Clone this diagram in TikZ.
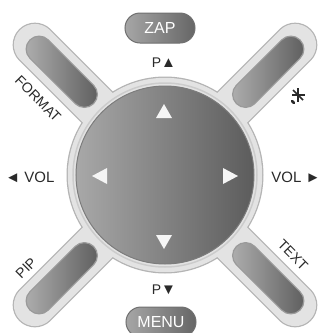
\documentclass[tikz,border=0pt]{standalone}
\usepackage{fontspec}
\setmainfont{Liberation Sans}
\usetikzlibrary{calc}
\definecolor{ringfill}{HTML}{E3E3E3}
\definecolor{ringedge}{HTML}{B4B4B4}
\definecolor{padL}{HTML}{A8A8A8}
\definecolor{padR}{HTML}{5C5C5C}
\definecolor{padedge}{HTML}{7C7C7C}
\definecolor{pillL}{HTML}{B2B2B2}
\definecolor{pillR}{HTML}{5A5A5A}
\definecolor{pilledge}{HTML}{9A9A9A}
\definecolor{btnL}{HTML}{A6A6A6}
\definecolor{btnR}{HTML}{666666}
\definecolor{btnedge}{HTML}{707070}
\definecolor{ink}{HTML}{2A2A2A}
\newcommand\tglyph[1]{{\fontsize{15}{15}\selectfont #1}}
\tikzset{
  lbl/.style={text=ink, inner sep=0pt, font=\fontsize{14}{14}\selectfont},
  btn/.style={rectangle, rounded corners=15pt, minimum width=70pt, minimum height=30pt,
    inner sep=0pt, left color=btnL, right color=btnR, draw=btnedge, line width=1pt,
    text=white, font=\fontsize{16}{16}\selectfont},
  tri/.style={fill=white!96!black}
}
\begin{document}
\begin{tikzpicture}[x=1pt,y=-1pt]
\clip (0,0) rectangle (321,333);
\fill[white] (0,0) rectangle (321,333);
\coordinate (C) at (165,175);
% outline of ring + outer pills
\foreach \a in {45,135,225,315}{
  \draw[ringedge, line width=44.5pt, line cap=round] ($(C)+(\a:80)$) -- ($(C)+(\a:184)$);
}
\fill[ringedge] (C) circle (98.5);
\foreach \a in {45,135,225,315}{
  \draw[ringfill, line width=42pt, line cap=round] ($(C)+(\a:80)$) -- ($(C)+(\a:184)$);
}
\fill[ringfill] (C) circle (97.2);
\draw[white!80!black, line width=1.5pt] (C) circle (92);
% central pad
\shade[left color=padL, right color=padR] (C) circle (89);
\draw[padedge, line width=1pt] (C) circle (89);
% dark pills
\foreach \a in {45,135,225,315}{
  \shadedraw[left color=pillL, right color=pillR, draw=pilledge, line width=1.2pt, rounded corners=13pt]
   ($(C)+(\a:114)+(\a+90:13)+(\a+180:13)$) -- ($(C)+(\a:178)+(\a+90:13)+(\a:13)$) --
   ($(C)+(\a:178)+(\a-90:13)+(\a:13)$) -- ($(C)+(\a:114)+(\a-90:13)+(\a+180:13)$) -- cycle;
}
% arrows in pad
\fill[tri] (164,104) -- (172,118) -- (156,118) -- cycle;
\fill[tri] (164,249) -- (172,235) -- (156,235) -- cycle;
\fill[tri] (92,176) -- (107,168) -- (107,184) -- cycle;
\fill[tri] (238,176) -- (223,168) -- (223,184) -- cycle;
% top / bottom buttons
\node[btn] (zap) at (160,28) {ZAP};
\node[btn] (menu) at (161,322) {MENU};
% labels
\node[lbl] (pup) at (164,63) {P\tglyph{▲}};
\node[lbl] (pdown) at (164,290) {P\tglyph{▼}};
\node[lbl, font=\fontsize{15}{15}\selectfont] (volm) at (30,177) {\tglyph{◄} VOL};
\node[lbl, font=\fontsize{15}{15}\selectfont] (volp) at (296,177) {VOL \tglyph{►}};
\node[lbl, rotate=-45] (format) at (38,99) {FORMAT};
\node[lbl, rotate=45] (pip) at (26,268) {PIP};
\node[lbl, rotate=-45] (text) at (293,255) {TEXT};
% mix symbol
\coordinate (mix) at (298,95);
\draw[ink, line width=1.5pt] ($(mix)+(0,-7)$) -- ($(mix)+(0,7)$);
\draw[ink, line width=1.5pt] ($(mix)+(-6,0)$) -- ($(mix)+(7,0)$);
\draw[ink, line width=1.5pt] ($(mix)+(-5,-5)$) -- ($(mix)+(5,5)$);
\draw[ink, line width=2.6pt, line cap=round] ($(mix)+(-6,6)$) -- ($(mix)+(-4,8)$);
\end{tikzpicture}
\end{document}
